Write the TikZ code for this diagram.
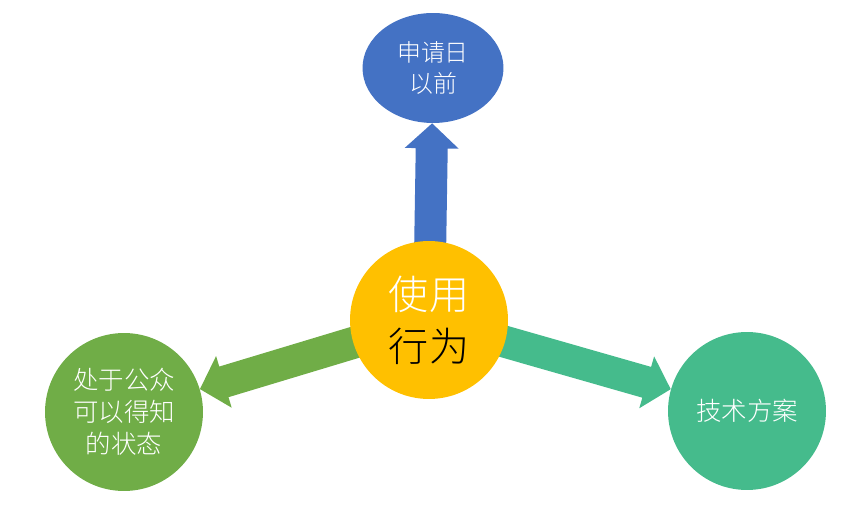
\documentclass[tikz,border=0pt]{standalone}
\usepackage{fontspec}
\setmainfont{Noto Sans CJK SC}[UprightFont={* Light}]
\usetikzlibrary{calc,backgrounds,shapes.geometric}

\definecolor{azul}{HTML}{4472C4}
\definecolor{amarillo}{HTML}{FFC000}
\definecolor{verde}{HTML}{70AD47}
\definecolor{turquesa}{HTML}{45BB8C}

\tikzset{
	bola/.style={circle,minimum size=3.16cm,inner sep=0pt,text=white,align=center,
		font=\fontsize{14.5}{18.2}\selectfont},
}

% flecha gruesa: color, origen, punta
\newcommand{\flecha}[3]{%
	\coordinate (base) at ($(#3)!0.5cm!(#2)$);
	\fill[#1] ($(#2)!0.32cm!90:(#3)$) -- ($(base)!0.32cm!90:(#3)$)
		-- ($(base)!0.54cm!90:(#3)$) -- (#3)
		-- ($(base)!0.54cm!-90:(#3)$) -- ($(base)!0.32cm!-90:(#3)$)
		-- ($(#2)!0.32cm!-90:(#3)$) -- cycle;
}

\begin{document}
\begin{tikzpicture}[x=0.02cm,y=-0.02cm]
	\useasboundingbox (0,0) rectangle (868,506);

	% Nodos
	\node[ellipse,fill=azul,text=white,minimum width=2.82cm,minimum height=2.2cm,
		inner sep=0pt,align=center,font=\fontsize{13.6}{17.6}\selectfont]
		(fecha) at (433,68) {申请日\\以前};
	\node[bola,fill=amarillo,font=\fontsize{22.8}{29.6}\selectfont]
		(uso) at (429,320) {使用\\\textcolor{black}{行为}};
	\node[bola,fill=verde] (publico) at (124,412) {处于公众\\可以得知\\的状态};
	\node[bola,fill=turquesa] (tecnica) at (747,411) {技术方案};

	% Flechas
	\begin{scope}[on background layer]
		\path (uso.center) -- (fecha) coordinate[pos=1] (pf);
		\path (uso.center) -- (publico) coordinate[pos=1] (pp);
		\path (uso.center) -- (tecnica) coordinate[pos=1] (pt);
		\flecha{azul}{uso.center}{pf}
		\flecha{verde}{uso.center}{pp}
		\flecha{turquesa}{uso.center}{pt}
	\end{scope}
\end{tikzpicture}
\end{document}
